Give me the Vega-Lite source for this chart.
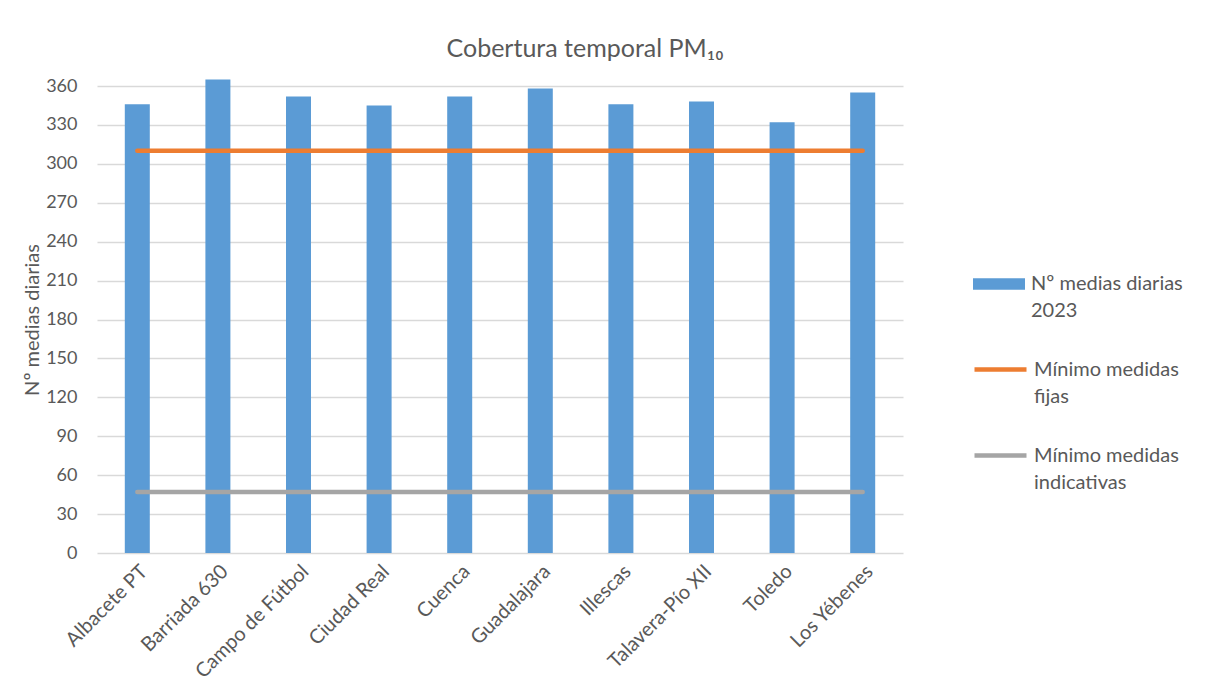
{
  "$schema": "https://vega.github.io/schema/vega-lite/v6.json",
  "width": 806,
  "height": 467,
  "autosize": {"type": "none"},
  "padding": {"left": 97, "top": 86, "right": 321, "bottom": 138},
  "background": "white",
  "title": {
    "text": "Cobertura temporal PM₁₀",
    "font": "Lato",
    "fontSize": 25,
    "fontWeight": "normal",
    "color": "#595959",
    "anchor": "middle",
    "dx": 85,
    "offset": 15
  },
  "data": {
    "values": [
      {"estacion": "Albacete PT", "medias": 346, "fijas": 310, "indicativas": 47},
      {"estacion": "Barriada 630", "medias": 365, "fijas": 310, "indicativas": 47},
      {"estacion": "Campo de Fútbol", "medias": 352, "fijas": 310, "indicativas": 47},
      {"estacion": "Ciudad Real", "medias": 345, "fijas": 310, "indicativas": 47},
      {"estacion": "Cuenca", "medias": 352, "fijas": 310, "indicativas": 47},
      {"estacion": "Guadalajara", "medias": 358, "fijas": 310, "indicativas": 47},
      {"estacion": "Illescas", "medias": 346, "fijas": 310, "indicativas": 47},
      {"estacion": "Talavera-Pío XII", "medias": 348, "fijas": 310, "indicativas": 47},
      {"estacion": "Toledo", "medias": 332, "fijas": 310, "indicativas": 47},
      {"estacion": "Los Yébenes", "medias": 355, "fijas": 310, "indicativas": 47}
    ]
  },
  "encoding": {
    "x": {
      "field": "estacion",
      "type": "nominal",
      "sort": null,
      "title": null,
      "scale": {"paddingInner": 0.69, "paddingOuter": 0.345},
      "axis": {
        "labelAngle": -45,
        "labelFont": "Lato",
        "labelFontSize": 20,
        "labelColor": "#595959",
        "domain": false,
        "ticks": false,
        "labelPadding": 8
      }
    },
    "y": {
      "type": "quantitative",
      "scale": {"domain": [0, 360], "nice": false},
      "title": "Nº medias diarias",
      "axis": {
        "values": [0, 30, 60, 90, 120, 150, 180, 210, 240, 270, 300, 330, 360],
        "labelFont": "Lato",
        "labelFontSize": 18,
        "labelColor": "#595959",
        "titleFont": "Lato",
        "titleFontSize": 20,
        "titleFontWeight": "normal",
        "titleColor": "#595959",
        "titlePadding": 3,
        "domain": false,
        "ticks": false,
        "labelPadding": 20,
        "gridColor": "#D9D9D9",
        "gridWidth": 1.3
      }
    }
  },
  "layer": [
    {
      "mark": {"type": "bar", "width": 25},
      "encoding": {
        "y": {"field": "medias"},
        "fill": {
          "datum": "Nº medias diarias 2023",
          "type": "nominal",
          "scale": {"range": ["#5B9BD5"]},
          "legend": {
            "orient": "none",
            "legendX": 875,
            "legendY": 171,
            "title": null,
            "padding": 0,
            "symbolType": "M-1,-0.22H1V0.22H-1Z",
            "symbolSize": 2704,
            "symbolOpacity": 1,
            "labelExpr": "['Nº medias diarias', '2023']",
            "labelFont": "Lato",
            "labelFontSize": 20,
            "labelColor": "#595959",
            "labelBaseline": "middle",
            "labelOffset": 5,
            "labelLimit": 300
          }
        }
      }
    },
    {
      "transform": [{"fold": ["fijas", "indicativas"], "as": ["serie", "valor"]}],
      "mark": {"type": "line", "strokeWidth": 4.5, "strokeCap": "round"},
      "encoding": {
        "y": {"field": "valor"},
        "stroke": {
          "field": "serie",
          "type": "nominal",
          "scale": {"domain": ["fijas", "indicativas"], "range": ["#ED7D31", "#A5A5A5"]},
          "legend": {
            "orient": "none",
            "legendX": 875,
            "legendY": 255,
            "title": null,
            "padding": 0,
            "symbolType": "stroke",
            "symbolSize": 2704,
            "symbolStrokeWidth": 4.5,
            "labelExpr": "datum.value == 'fijas' ? ['Mínimo medidas', 'fijas'] : ['Mínimo medidas', 'indicativas']",
            "labelFont": "Lato",
            "labelFontSize": 20,
            "labelColor": "#595959",
            "labelBaseline": "middle",
            "labelOffset": 5,
            "labelLimit": 300,
            "rowPadding": 20
          }
        }
      }
    }
  ],
  "config": {
    "view": {"stroke": null},
    "axis": {"labelOverlap": false},
    "style": {"guide-label": {"lineHeight": 27}}
  }
}
